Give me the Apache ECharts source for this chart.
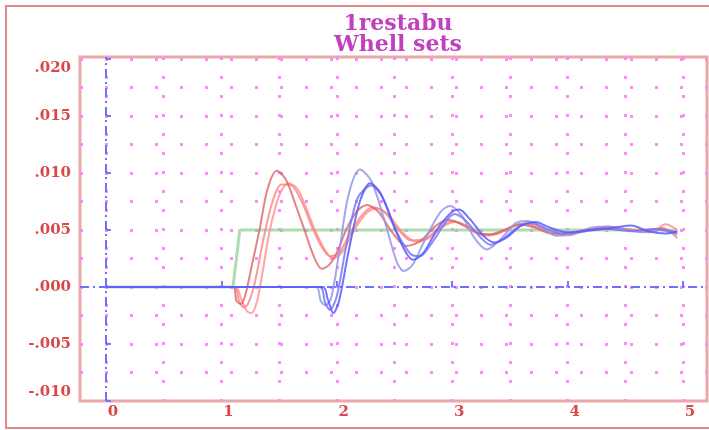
<!DOCTYPE html>
<html>
<head>
<meta charset="utf-8">
<script src="https://cdn.jsdelivr.net/npm/echarts@6/dist/echarts.min.js"></script>
<style>html,body{margin:0;padding:0;background:#fff}#c{width:709px;height:430px}</style>
</head>
<body>
<div id="c"></div>
<script>
const titleLines = ['1restabu', 'Whell sets'];
const xLabelValues = [0, 1, 2, 3, 4, 5];
const xLabelText = ['0', '1', '2', '3', '4', '5'];
const xGridValues = [0, 0.5, 1, 1.5, 2, 2.5, 3, 3.5, 4, 4.5, 5];
const yLabelValues = [-0.010, -0.005, 0, 0.005, 0.010, 0.015, 0.020];
const yLabelText = ['-.010', '-.005', '.000', '.005', '.010', '.015', '.020'];
const yGridValues = [-0.0075, -0.005, -0.0025, 0, 0.0025, 0.005, 0.0075, 0.010, 0.0125, 0.015, 0.0175, 0.020];

const greenStep = [[0,0],[1.10,0],[1.13,0.0025],[1.16,0.0050],[2.0,0.0050],[3.0,0.0050],[4.0,0.0050],[4.95,0.0050]];

const redA = [[0,0],[1.10,0],[1.13,-0.0012],[1.17,-0.0015],[1.21,-0.0006],[1.27,0.0022],[1.33,0.0050],[1.40,0.0086],[1.48,0.0102],
  [1.56,0.0094],[1.65,0.0070],[1.72,0.0050],[1.80,0.0027],[1.87,0.0016],[1.93,0.0019],[2.00,0.0030],[2.08,0.0050],[2.17,0.0066],
  [2.26,0.0072],[2.36,0.0066],[2.48,0.0048],[2.60,0.0036],[2.72,0.0040],[2.85,0.0053],[2.96,0.0059],[3.08,0.0055],[3.20,0.0048],
  [3.32,0.0046],[3.45,0.0050],[3.58,0.0055],[3.72,0.0052],[3.86,0.0047],[4.00,0.0047],[4.20,0.0051],[4.40,0.0052],[4.60,0.0049],
  [4.80,0.0051],[4.95,0.0047]];
const redB = [[0,0],[1.12,0],[1.17,-0.0010],[1.22,-0.0021],[1.26,-0.0023],[1.31,-0.0012],[1.36,0.0015],[1.42,0.0050],[1.50,0.0080],
  [1.58,0.0091],[1.66,0.0086],[1.74,0.0068],[1.81,0.0050],[1.90,0.0032],[1.97,0.0025],[2.05,0.0031],[2.14,0.0048],[2.24,0.0063],
  [2.34,0.0069],[2.45,0.0063],[2.56,0.0049],[2.68,0.0040],[2.80,0.0043],[2.92,0.0053],[3.03,0.0057],[3.15,0.0052],[3.28,0.0045],
  [3.40,0.0047],[3.55,0.0054],[3.68,0.0055],[3.82,0.0049],[3.98,0.0046],[4.15,0.0049],[4.35,0.0053],[4.55,0.0050],[4.72,0.0048],
  [4.85,0.0055],[4.95,0.0050]];
const redC = [[0,0],[1.11,0],[1.15,-0.0011],[1.19,-0.0018],[1.23,-0.0015],[1.29,0.0004],[1.36,0.0040],[1.44,0.0074],[1.52,0.0090],
  [1.61,0.0089],[1.70,0.0074],[1.78,0.0054],[1.87,0.0035],[1.94,0.0027],[2.02,0.0030],[2.11,0.0046],[2.21,0.0062],[2.31,0.0070],
  [2.41,0.0066],[2.52,0.0052],[2.64,0.0041],[2.76,0.0042],[2.88,0.0051],[3.00,0.0058],[3.12,0.0054],[3.24,0.0047],[3.36,0.0046],
  [3.50,0.0052],[3.64,0.0056],[3.78,0.0050],[3.92,0.0046],[4.10,0.0048],[4.30,0.0051],[4.50,0.0051],[4.68,0.0049],[4.82,0.0052],
  [4.95,0.0043]];

const blueA = [[0,0],[1.82,0],[1.86,-0.0012],[1.90,-0.0016],[1.95,-0.0010],[2.02,0.0030],[2.10,0.0080],[2.20,0.0103],[2.30,0.0093],
  [2.42,0.0056],[2.52,0.0022],[2.58,0.0014],[2.66,0.0020],[2.78,0.0045],[2.90,0.0066],[2.98,0.0071],[3.08,0.0063],[3.20,0.0042],
  [3.30,0.0033],[3.42,0.0042],[3.55,0.0056],[3.65,0.0058],[3.78,0.0052],[3.90,0.0045],[4.05,0.0046],[4.20,0.0052],[4.35,0.0053],
  [4.50,0.0050],[4.65,0.0048],[4.80,0.0050],[4.95,0.0046]];
const blueB = [[0,0],[1.88,0],[1.92,-0.0010],[1.97,-0.0023],[2.02,-0.0012],[2.10,0.0030],[2.20,0.0075],[2.29,0.0091],[2.38,0.0082],
  [2.50,0.0052],[2.60,0.0030],[2.66,0.0024],[2.75,0.0030],[2.88,0.0052],[3.00,0.0066],[3.06,0.0068],[3.15,0.0060],[3.28,0.0044],
  [3.37,0.0039],[3.48,0.0044],[3.60,0.0054],[3.72,0.0057],[3.85,0.0052],[4.00,0.0048],[4.20,0.0050],[4.40,0.0052],[4.55,0.0054],
  [4.70,0.0049],[4.85,0.0047],[4.95,0.0049]];
const blueC = [[0,0],[1.85,0],[1.90,-0.0014],[1.94,-0.0020],[2.00,-0.0008],[2.08,0.0035],[2.18,0.0078],[2.30,0.0089],[2.40,0.0078],
  [2.52,0.0048],[2.64,0.0029],[2.72,0.0027],[2.82,0.0038],[2.95,0.0058],[3.02,0.0064],[3.12,0.0058],[3.25,0.0043],[3.33,0.0037],
  [3.45,0.0043],[3.58,0.0053],[3.70,0.0056],[3.82,0.0051],[3.95,0.0047],[4.15,0.0049],[4.35,0.0051],[4.55,0.0049],[4.75,0.0051],
  [4.95,0.0048]];

const chart = echarts.init(document.getElementById('c'), null, {renderer: 'canvas'});
const labelFont = {fontFamily: 'DejaVu Serif', fontWeight: 'bold', fontSize: 15, color: '#d84848'};
const xMin = -0.2253, xMax = 5.208, yMin = -0.0100, yMax = 0.02018;

function lineSeries(data, color, width, z) {
  return {type: 'line', data: data, showSymbol: false, symbol: 'none', smooth: 0.3, z: z,
    lineStyle: {color: color, width: width}, silent: true};
}

chart.setOption({
  animation: false,
  backgroundColor: '#ffffff',
  title: {
    text: titleLines.join('\n'), left: 393, top: 9, textAlign: 'center',
    textStyle: {fontFamily: 'DejaVu Serif', fontWeight: 'bold', fontSize: 22, lineHeight: 21, color: '#c040c0'}
  },
  graphic: [{type: 'rect', shape: {x: 6, y: 6, width: 730, height: 422}, style: {fill: 'none', stroke: '#e08888', lineWidth: 2}, silent: true}],
  grid: {left: 80, right: 2, top: 57, bottom: 29, show: true, borderColor: '#eaa8a8', borderWidth: 3, backgroundColor: 'transparent'},
  xAxis: [{
    type: 'value', min: xMin, max: xMax, position: 'bottom',
    axisLine: {show: false},
    axisTick: {show: false, customValues: xGridValues},
    axisLabel: Object.assign({customValues: xLabelValues, margin: 4, padding: [0, 0, 0, 14],
      formatter: v => xLabelText[xLabelValues.findIndex(u => Math.abs(u - v) < 1e-9)]}, labelFont),
    splitLine: {show: true, lineStyle: {color: '#ff88ff', width: 3, type: [3, 16]}}
  }, {
    type: 'value', min: xMin, max: xMax, position: 'bottom', offset: 0,
    axisLine: {show: false}, axisLabel: {show: false}, splitLine: {show: false},
    axisTick: {show: true, inside: true, length: 6, customValues: xLabelValues, lineStyle: {color: '#7878ff', width: 2}}
  }],
  yAxis: [{
    type: 'value', min: yMin, max: yMax, position: 'left',
    axisLine: {show: false},
    axisTick: {show: false, customValues: yGridValues},
    axisLabel: Object.assign({customValues: yLabelValues, margin: 9,
      formatter: v => {
        const i = yLabelValues.findIndex(u => Math.abs(u - v) < 1e-9);
        const s = yLabelText[i];
        if (i === yLabelValues.length - 1) return '{t|' + s + '}';
        if (i === 0) return '{b|' + s + '}';
        return s;
      },
      rich: {
        t: Object.assign({padding: [18, 0, 0, 0]}, labelFont),
        b: Object.assign({padding: [0, 0, 18, 0]}, labelFont)
      }}, labelFont),
    splitLine: {show: true, lineStyle: {color: '#ff88ff', width: 3, type: [3, 22]}}
  }, {
    type: 'value', min: yMin, max: yMax, position: 'left', offset: 0,
    axisLine: {show: false}, axisLabel: {show: false}, splitLine: {show: false},
    axisTick: {show: true, inside: true, length: 5, customValues: yLabelValues, lineStyle: {color: '#7878ff', width: 2}}
  }],
  series: [
    Object.assign(lineSeries(greenStep, 'rgba(150,210,150,0.75)', 3, 2), {smooth: false,
      markLine: {silent: true, symbol: 'none', label: {show: false},
        lineStyle: {color: '#7070ff', width: 2, type: [9, 4, 2, 4]},
        data: [{xAxis: 0}, {yAxis: 0}]}}),
    lineSeries(redB, 'rgba(255,140,140,0.8)', 2, 3),
    lineSeries(redC, 'rgba(250,130,130,0.8)', 2, 3),
    lineSeries(redA, 'rgba(220,100,100,0.8)', 2, 4),
    lineSeries(blueA, 'rgba(150,150,230,0.85)', 2, 5),
    lineSeries(blueC, 'rgba(120,120,245,0.85)', 2, 5),
    lineSeries(blueB, 'rgba(90,90,255,0.85)', 2, 6)
  ]
});
</script>
</body>
</html>
